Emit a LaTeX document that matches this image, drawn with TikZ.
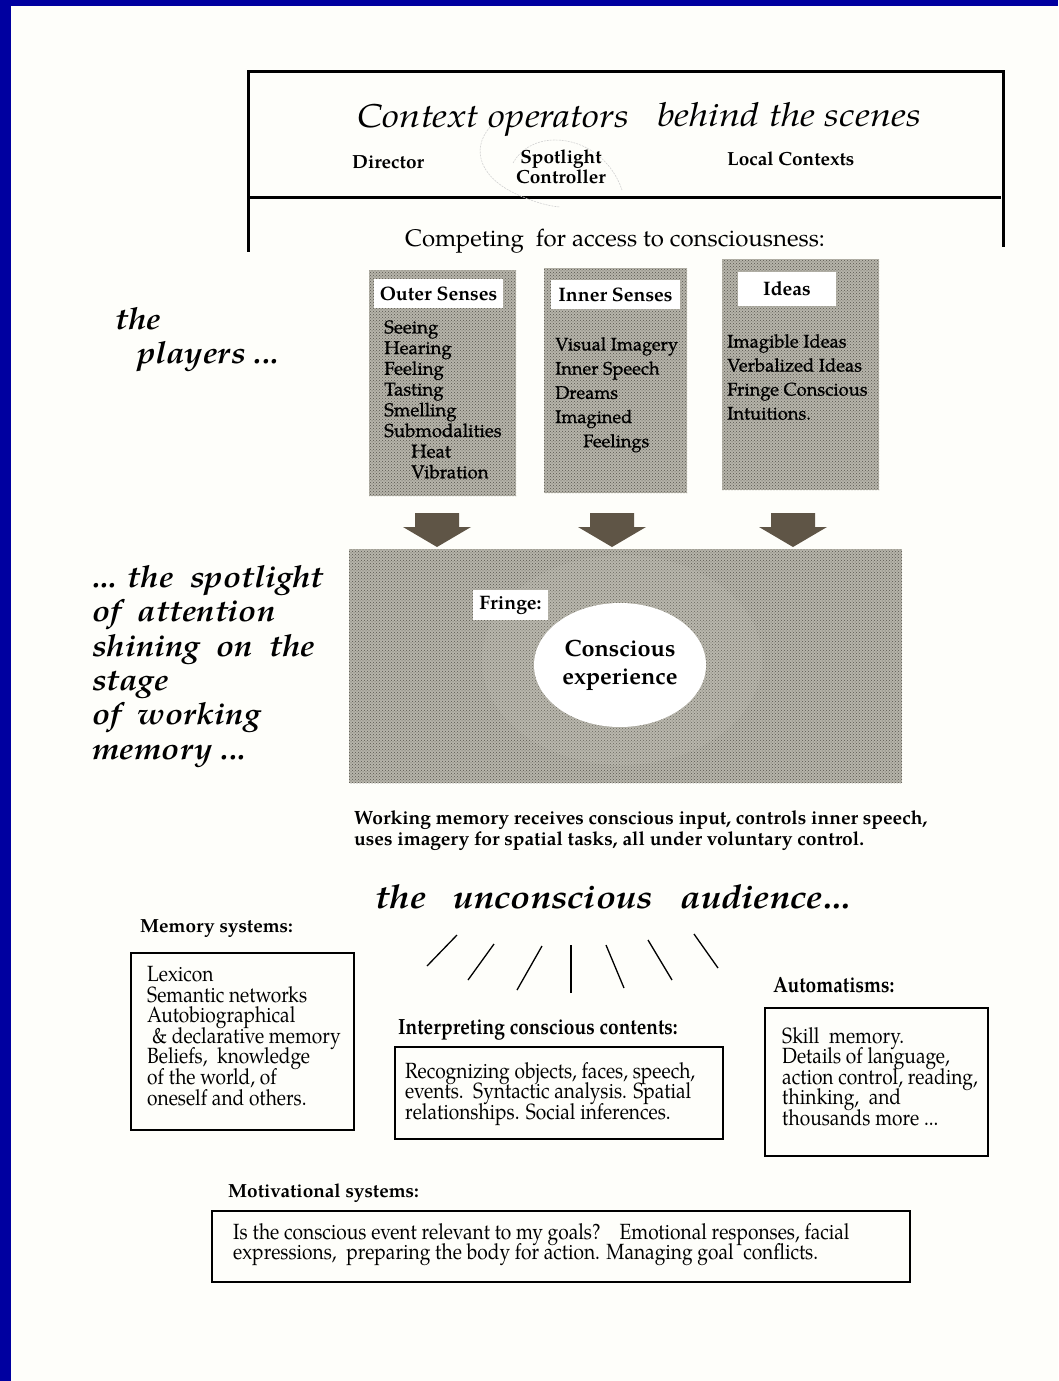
\documentclass[tikz,border=0pt]{standalone}
\usepackage{fontspec}
\setmainfont{texgyrepagella}[Extension=.otf, UprightFont=*-regular, BoldFont=*-bold, ItalicFont=*-italic, BoldItalicFont=*-bolditalic]
\newfontfamily\condfont{texgyrepagella}[Extension=.otf, UprightFont=*-regular, BoldFont=*-bold, ItalicFont=*-italic, BoldItalicFont=*-bolditalic, FakeStretch=0.87]
\newfontfamily\titlefont{texgyrepagella}[Extension=.otf, UprightFont=*-regular, BoldFont=*-bold, ItalicFont=*-italic, BoldItalicFont=*-bolditalic, FakeStretch=1.16]
\newfontfamily\audfont{texgyrepagella}[Extension=.otf, UprightFont=*-regular, BoldFont=*-bold, ItalicFont=*-italic, BoldItalicFont=*-bolditalic, FakeStretch=1.11]
\newfontfamily\sidefont{texgyrepagella}[Extension=.otf, UprightFont=*-regular, BoldFont=*-bold, ItalicFont=*-italic, BoldItalicFont=*-bolditalic, FakeStretch=1.08]
\newfontfamily\itemfont{texgyrepagella}[Extension=.otf, UprightFont=*-regular, BoldFont=*-bold, ItalicFont=*-italic, BoldItalicFont=*-bolditalic, FakeBold=0.8]
\newcommand\tightlines{\setlength{\lineskiplimit}{-30pt}\setlength{\lineskip}{0pt}}
\usetikzlibrary{patterns,shapes.geometric}
\definecolor{blueborder}{RGB}{0,0,160}
\definecolor{paper}{RGB}{254,254,250}
\definecolor{stipbg}{RGB}{182,180,170}
\definecolor{stipfg}{RGB}{88,86,78}
\definecolor{arrowc}{RGB}{95,85,70}
\definecolor{halo}{RGB}{205,203,193}
\tikzset{
  frame/.style={line width=3pt, black},
  thinbox/.style={draw=black, line width=1.7pt},
  stipple/.style={fill=stipbg, postaction={pattern=crosshatch dots, pattern color=stipfg}},
  label/.style={fill=white, inner sep=0pt, font=\bfseries\fontsize{19.5}{22}\selectfont},
  item/.style={inner sep=0pt, align=left, anchor=north west},
  heading/.style={inner sep=0pt, anchor=base west, font=\bfseries\fontsize{19}{22}\selectfont},
  condhead/.style={inner sep=0pt, anchor=base west, font=\condfont\bfseries\fontsize{22}{24}\selectfont},
  condtext/.style={inner sep=0pt, align=left, anchor=north west, font={\condfont\fontsize{22}{20.6}\selectfont\tightlines}},
  side/.style={inner sep=0pt, align=left, anchor=north west, font=\sidefont\bfseries\itshape\fontsize{30.5}{34.4}\selectfont},
  fatarrow/.style={fill=arrowc, draw=none},
  ray/.style={line width=1.3pt, black},
  swirl/.style={draw=gray!35, line width=0.6pt, dash pattern=on 2pt off 1pt}
}
\begin{document}
\begin{tikzpicture}[x=1pt,y=-1pt]
\useasboundingbox (0,0) rectangle (1058,1381);
\fill[paper] (0,0) rectangle (1058,1381);
\fill[blueborder] (0,0) rectangle (11,1381);
\fill[blueborder] (0,0) rectangle (1058,6);

% top frame
\draw[frame] (247,72) -- (1005,72);
\draw[frame] (248,72) -- (248,252);
\draw[frame] (1003,72) -- (1003,247);
\draw[frame] (250,197) -- (1001,197);

% faint swirl
\draw[swirl] (490,127) .. controls (470,150) and (480,180) .. (523,197) .. controls (535,202) and (548,206) .. (560,207);
\draw[swirl] (513,163) .. controls (520,150) and (535,140) .. (555,140) .. controls (585,140) and (612,160) .. (622,190);

\node[inner sep=0pt, anchor=base west, font=\titlefont\itshape\fontsize{33}{36}\selectfont] (ctx) at (357,127) {Context operators};
\node[inner sep=0pt, anchor=base west, font=\titlefont\itshape\fontsize{33}{36}\selectfont] (bts) at (657,126) {behind the scenes};
\node[heading] (dir) at (352,168) {Director};
\node[inner sep=0pt, align=center, anchor=north, font=\bfseries\fontsize{19}{20}\selectfont] (spot) at (561,150) {Spotlight\\Controller};
\node[heading] (loc) at (727,165) {Local Contexts};
\node[inner sep=0pt, anchor=base, font=\fontsize{24}{28}\selectfont] (comp) at (615,246) {Competing\ \ for access to consciousness:};

% player boxes
\path[stipple] (369,270) rectangle (516,496);
\path[stipple] (544,268) rectangle (687,493);
\path[stipple] (722,259) rectangle (879,490);
\node[label, minimum width=129pt, minimum height=29pt] (outer) at (438.5,293.5) {Outer Senses};
\node[label, minimum width=129pt, minimum height=29pt] (inner) at (615.5,294.5) {Inner Senses};
\node[label, minimum width=98pt, minimum height=34pt] (ideas) at (787,289) {Ideas};

\node[item, font=\itemfont\fontsize{18.6}{20.7}\selectfont] (outeritems) at (384,320) {Seeing\\Hearing\\Feeling\\Tasting\\Smelling\\Submodalities\\\hspace*{27pt}Heat\\\hspace*{27pt}Vibration};
\node[item, font=\itemfont\fontsize{18.2}{24.2}\selectfont] (inneritems) at (555,337) {Visual Imagery\\Inner Speech\\Dreams\\Imagined\\\hspace*{28pt}Feelings};
\node[item, font=\itemfont\fontsize{18.4}{24}\selectfont] (ideaitems) at (727,334) {Imagible Ideas\\Verbalized Ideas\\Fringe Conscious\\Intuitions.};

% fat arrows
\foreach \cx/\nm in {437/a1, 612/a2, 793/a3}{
  \fill[fatarrow] (\cx-22,513) -- (\cx+22,513) -- (\cx+22,527) -- (\cx+34,527) -- (\cx,547) -- (\cx-34,527) -- (\cx-22,527) -- cycle;
}

% stage
\path[stipple] (349,549) rectangle (902,783);
\fill[halo, opacity=0.15] (622,660) ellipse [x radius=140, y radius=105];
\node[label, minimum width=75pt, minimum height=30pt] (fringe) at (510.5,605) {Fringe:};
\node[ellipse, fill=white, minimum width=172pt, minimum height=124pt, inner sep=0pt] (ce) at (620,665) {};
\node[inner sep=0pt, align=center, font=\bfseries\fontsize{23.5}{28}\selectfont] (cetext) at (ce) {Conscious\\experience};

\node[inner sep=0pt, align=left, anchor=north west, font=\bfseries\fontsize{19.2}{21}\selectfont] (wm) at (354,810) {Working memory receives conscious input, controls inner speech,\\uses imagery for spatial tasks, all under voluntary control.};

\node[inner sep=0pt, anchor=base, font=\audfont\bfseries\itshape\fontsize{33}{36}\selectfont] (aud) at (613,908) {the\ \ \ unconscious\ \ \ audience...};

% rays
\coordinate (r1a) at (427,966); \coordinate (r1b) at (457,935);
\coordinate (r2a) at (468,980); \coordinate (r2b) at (494,944);
\coordinate (r3a) at (517,990); \coordinate (r3b) at (542,946);
\coordinate (r4a) at (571,993); \coordinate (r4b) at (571,945);
\coordinate (r5a) at (624,988); \coordinate (r5b) at (606,945);
\coordinate (r6a) at (672,980); \coordinate (r6b) at (648,940);
\coordinate (r7a) at (718,968); \coordinate (r7b) at (694,934);
\foreach \i in {1,...,7}{\draw[ray] (r\i a) -- (r\i b);}

% memory systems
\node[heading] (memh) at (140,932) {Memory systems:};
\draw[thinbox] (131,953) rectangle (354,1130);
\node[condtext] (memt) at (147,966) {Lexicon\\Semantic networks\\Autobiographical\\\hspace*{5pt}\& declarative memory\\Beliefs,\ \ knowledge\\of the world, of\\oneself and others.};

% interpreting
\node[condhead] (inth) at (398,1034) {Interpreting conscious contents:};
\draw[thinbox] (395,1047) rectangle (723,1139);
\node[condtext] (intt) at (405,1062) {Recognizing objects, faces, speech,\\events.\ \ Syntactic analysis. Spatial\\relationships. Social inferences.};

% automatisms
\node[condhead] (auth) at (773,992) {Automatisms:};
\draw[thinbox] (765,1008) rectangle (988,1156);
\node[condtext] (autt) at (782,1027) {Skill\ \ memory.\\Details of language,\\action control, reading,\\thinking,\ \ and\\thousands more ...};

% motivational
\node[heading] (moth) at (228,1197) {Motivational systems:};
\draw[thinbox] (212,1211) rectangle (910,1282);
\node[condtext] (mott) at (233,1223) {Is the conscious event relevant to my goals?\ \ \ \ Emotional responses, facial\\expressions,\ \ preparing the body for action. Managing goal\ \ conflicts.};

% side captions
\node[side] (the) at (115,307) {the};
\node[inner sep=0pt, anchor=north west, font=\sidefont\bfseries\itshape\fontsize{30.5}{34}\selectfont] (players) at (137,341) {players ...};
\node[side] (spotl) at (92,565) {... the\ \ spotlight\\of\ \ attention\\shining\ \ on\ \ the\\stage\\of\ \ working\\memory ...};
\end{tikzpicture}
\end{document}
